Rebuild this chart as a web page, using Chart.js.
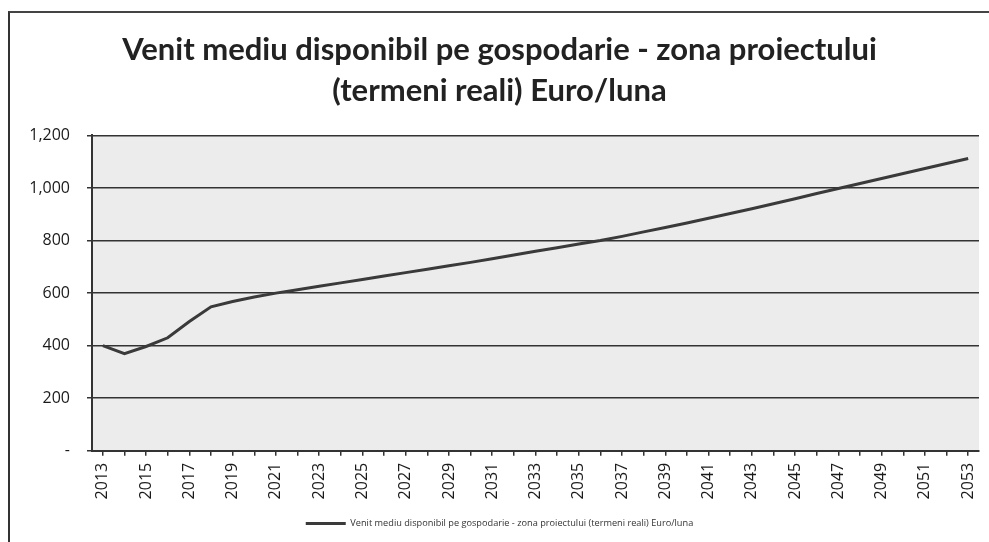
<!DOCTYPE html>
<html>
<head>
  <title>Venit mediu disponibil</title>
  <script src="https://cdn.jsdelivr.net/npm/chart.js"></script>
  <style>
    body { margin: 0; background: #fff; }
    #wrap { position: relative; width: 989px; height: 542px; }
    #frame { position: absolute; left: 8px; top: 11px; right: -4px; bottom: -4px;
             border-left: 2px solid #333; border-top: 2px solid #444; }
    #c { position: absolute; left: 0; top: 0; }
  </style>
</head>
<body>
  <div id="wrap">
    <div id="frame"></div>
    <canvas id="c" width="989" height="542"></canvas>
  </div>

  <script>
    const years = [];
    for (let y = 2013; y <= 2053; y++) years.push(String(y));

    // Euro/luna
    const venit = [
      400, 370, 397, 430, 492, 548, 568, 585, 600, 613,
      626, 639, 652, 665, 678, 691, 704, 717, 731, 745,
      759, 773, 787, 800, 816, 833, 850, 867, 885, 903,
      921, 940, 959, 979, 998, 1017, 1036, 1055, 1074, 1093,
      1112
    ];

    const titleLines = ['Venit mediu disponibil pe gospodarie - zona proiectului', '(termeni reali) Euro/luna'];
    const seriesName = 'Venit mediu disponibil pe gospodarie - zona proiectului (termeni reali) Euro/luna';

    const plotBg = {
      id: 'plotBg',
      beforeDraw(chart) {
        const a = chart.chartArea, ctx = chart.ctx;
        ctx.save();
        ctx.fillStyle = '#ececec';
        ctx.fillRect(a.left, a.top, a.right - a.left, a.bottom - a.top);
        ctx.restore();
      }
    };

    new Chart(document.getElementById('c'), {
      type: 'line',
      data: {
        labels: years,
        datasets: [{
          label: seriesName,
          data: venit,
          borderColor: '#3a3a3a',
          backgroundColor: '#3a3a3a',
          borderWidth: 3,
          pointRadius: 0,
          pointStyle: 'line',
          tension: 0,
          fill: false
        }]
      },
      options: {
        responsive: false,
        animation: false,
        layout: { padding: { left: 20, right: 10, top: 0, bottom: 4 } },
        plugins: {
          title: {
            display: true,
            text: titleLines,
            color: '#222',
            font: { family: 'Lato', size: 31, weight: 'bold', lineHeight: 1.33 },
            padding: { top: 29, bottom: 24 }
          },
          legend: {
            position: 'bottom',
            labels: {
              usePointStyle: true,
              pointStyleWidth: 40,
              color: '#333',
              font: { family: 'Open Sans', size: 9.2 },
              padding: 10
            }
          },
          tooltip: { enabled: false }
        },
        scales: {
          x: {
            offset: true,
            afterFit(s) { s.height = 58; s.paddingLeft = 0; s.paddingRight = 0; },
            grid: { drawOnChartArea: false, drawTicks: true, tickLength: 5, color: '#333', lineWidth: 1.5 },
            border: { color: '#333', width: 2 },
            ticks: {
              autoSkip: false,
              minRotation: 90,
              maxRotation: 90,
              padding: 7,
              color: '#1a1a1a',
              font: { family: 'Open Sans', size: 16 },
              callback(v, i) { return i % 2 === 0 ? this.getLabelForValue(v) : ''; }
            }
          },
          y: {
            min: 0,
            max: 1200,
            afterFit(s) { s.width = 72; },
            grid: { color: '#333', lineWidth: 1.5, tickLength: 5 },
            border: { color: '#333', width: 2 },
            ticks: {
              stepSize: 200,
              padding: 17,
              color: '#1a1a1a',
              font: { family: 'Open Sans', size: 16 },
              callback(v) { return v === 0 ? '-' : v.toLocaleString('en-US'); }
            }
          }
        }
      },
      plugins: [plotBg]
    });
  </script>
</body>
</html>
